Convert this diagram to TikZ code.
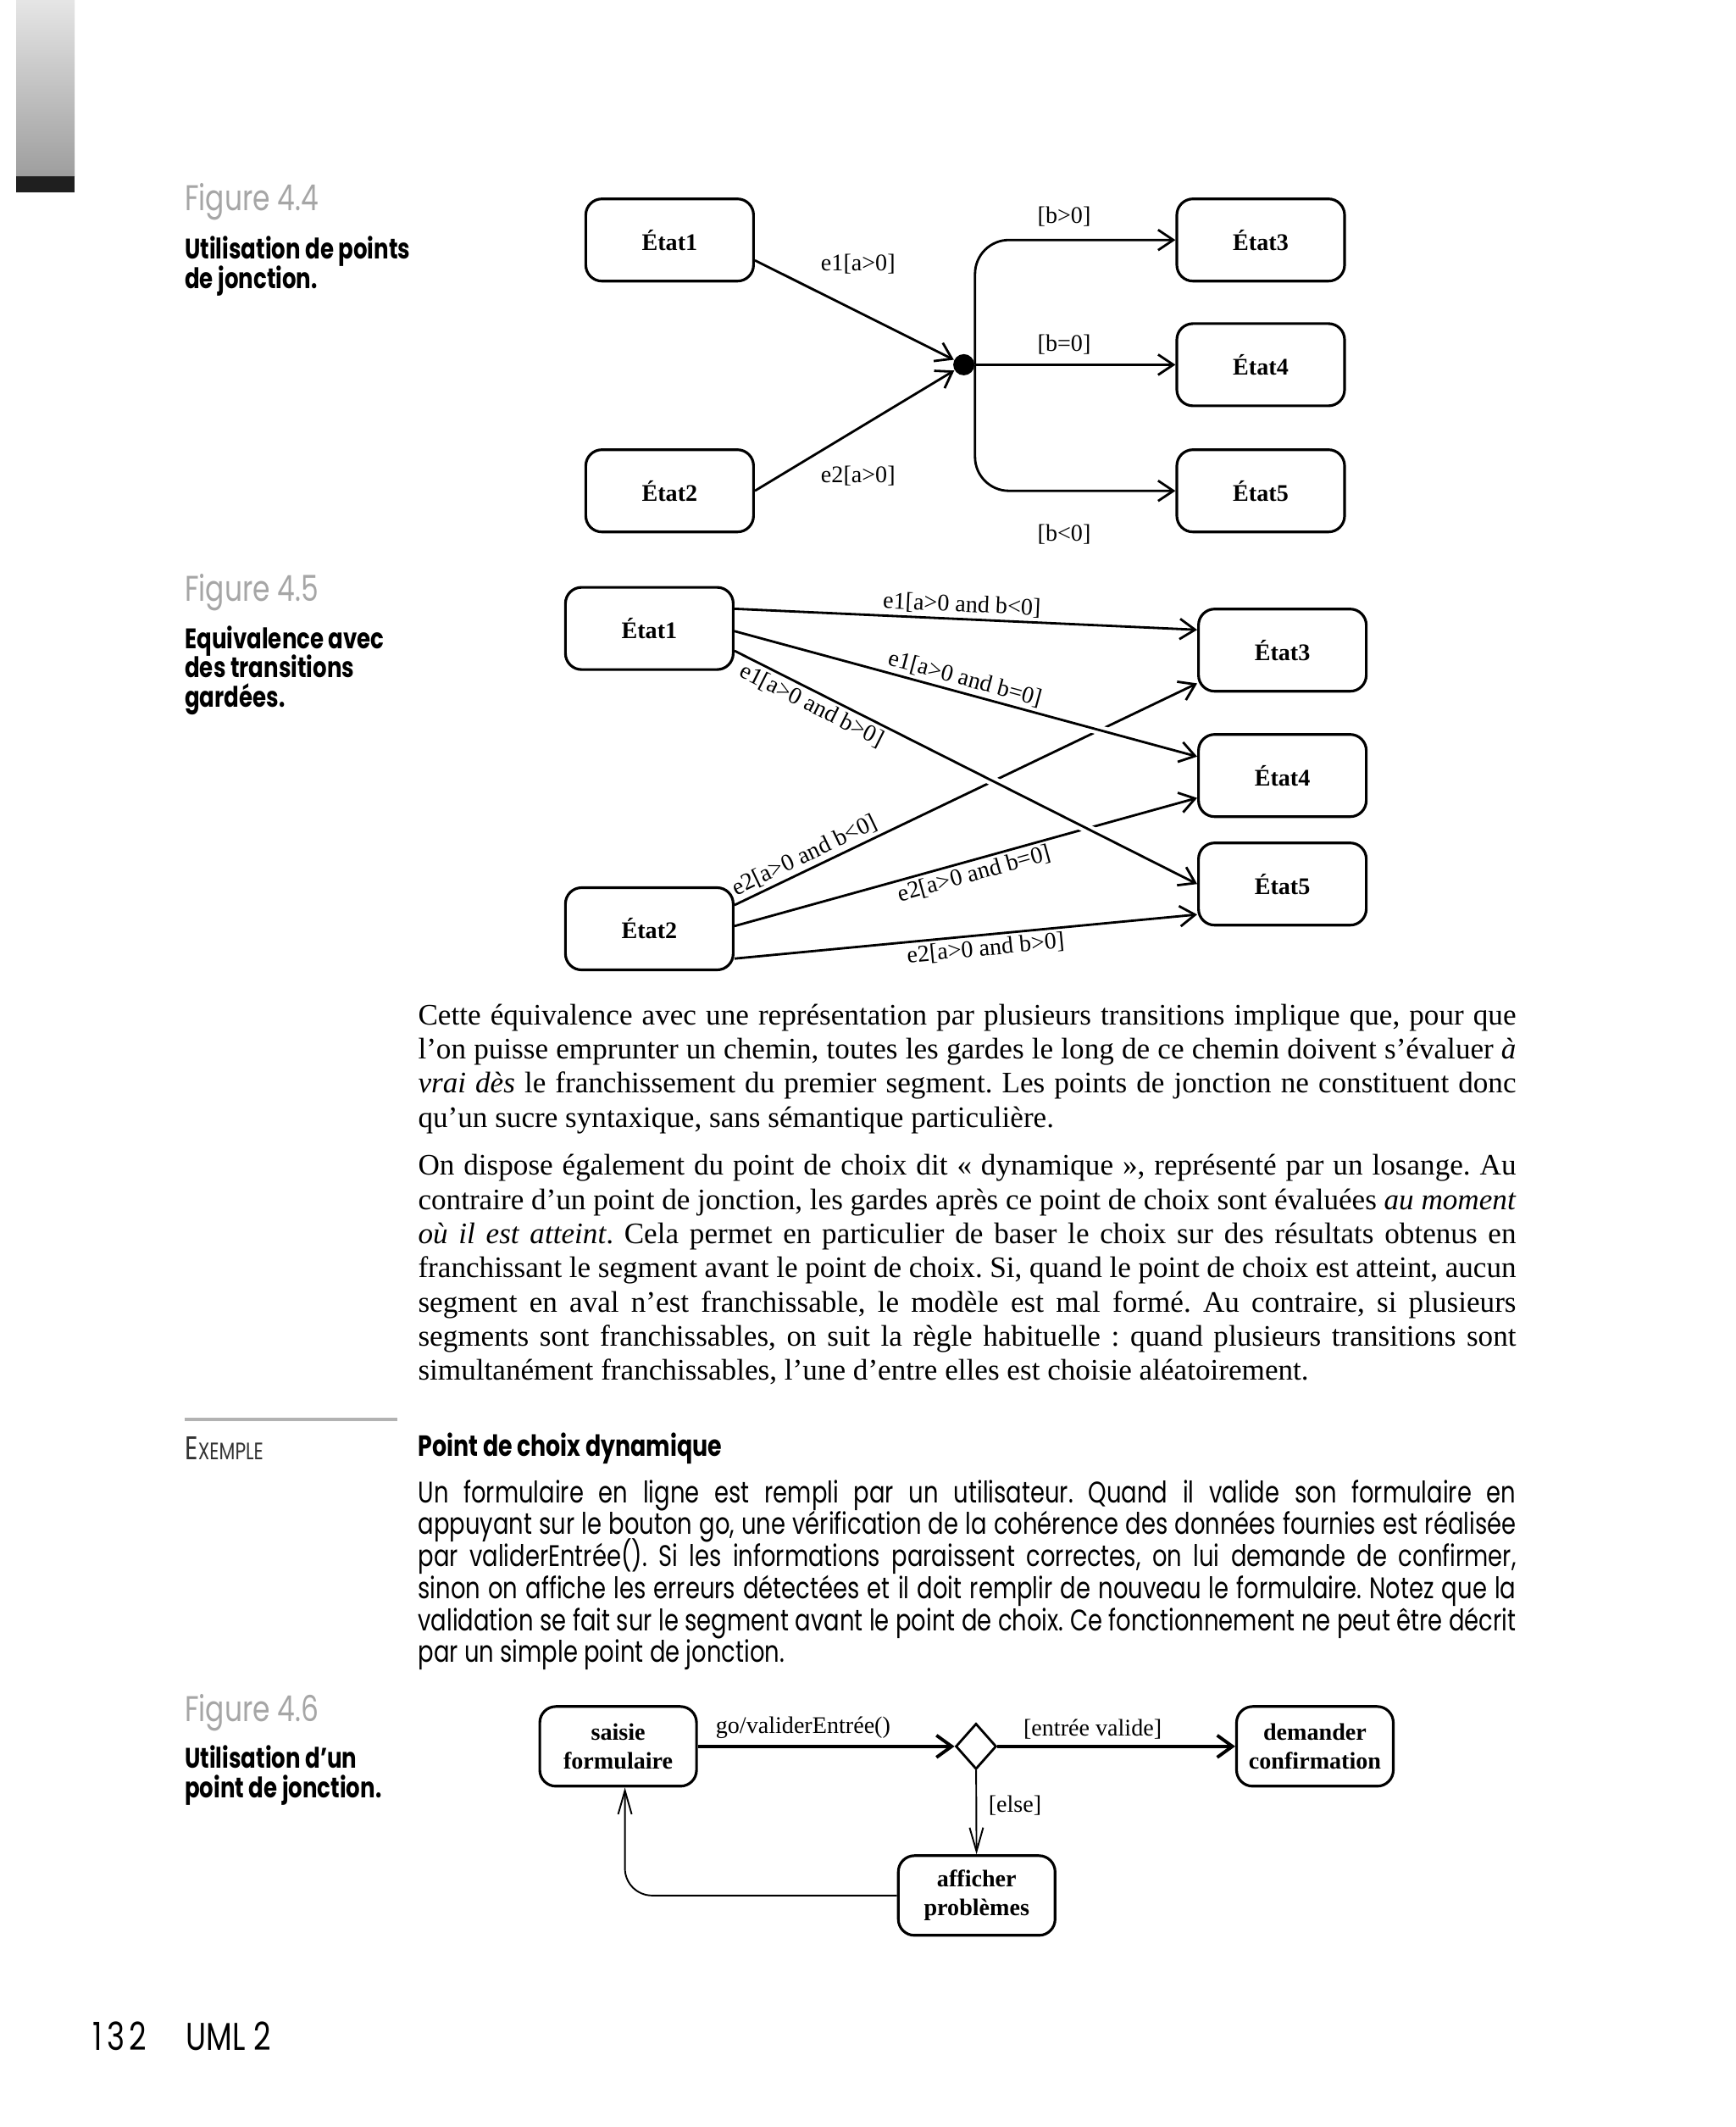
\documentclass[tikz,border=0pt]{standalone}
\usepackage{fontspec}
\setmainfont{Liberation Serif}
\newfontfamily\futur[FakeStretch=0.78]{Poppins}
\newfontfamily\garamo{Liberation Serif}
\usetikzlibrary{arrows.meta}
\usetikzlibrary{shapes.geometric}
\newcommand\serre{\lineskiplimit-10pt\relax}

\tikzset{
  etat/.style={draw, line width=0.9pt, rounded corners=1.9mm, minimum width=19.8mm,
    minimum height=9.7mm, align=center, font=\bfseries\fontsize{8}{9.6}\selectfont},
  garde/.style={font=\fontsize{8}{9.6}\selectfont, inner sep=1pt},
  trans/.style={line width=0.8pt, -{Straight Barb[length=1.8mm,width=2.4mm]}},
  epais/.style={line width=1.1pt, -{Straight Barb[length=1.8mm,width=2.6mm]}},
  fine/.style={line width=0.55pt, -{Straight Barb[length=2.8mm,width=1.6mm]}},
  dessus/.style={preaction={-, draw=white, line width=3.2pt, shorten <=4mm, shorten >=4mm}},
  figno/.style={anchor=west, inner sep=0, text=black!35, font=\futur\fontsize{12}{14}\selectfont},
  legende/.style={anchor=north west, inner sep=0, align=left,
    font=\futur\bfseries\fontsize{9.5}{9.9}\selectfont\serre},
  texte/.style={anchor=north west, inner sep=0, text width=129.6mm, align=justify,
    font=\garamo\frenchspacing\fontsize{10}{11.48}\selectfont},
  exemple/.style={anchor=north west, inner sep=0, text width=129.6mm, align=justify,
    font=\futur\frenchspacing\fontsize{10}{10.74}\selectfont\serre},
}

\begin{document}
\begin{tikzpicture}[x=0.16mm, y=-0.16mm]
  \useasboundingbox (0,0) rectangle (1280,1568.75);
  \fill[white] (0,0) rectangle (1280,1568.75);

  % bandeau de page
  \shade[top color=black!10, bottom color=black!38] (12,0) rectangle (55,130);
  \fill[black!88] (12,130) rectangle (55,142);

  % Figure 4.4
  \node[figno] (f44) at (136,149) {Figure 4.4};
  \node[legende] (c44) at (136,174) {Utilisation de points\\de jonction.};

  \node[etat] (a1) at (494,177) {État1};
  \node[etat] (a2) at (494,362) {État2};
  \node[etat] (a3) at (930,177) {État3};
  \node[etat] (a4) at (930,269) {État4};
  \node[etat] (a5) at (930,362) {État5};
  \node[circle, fill, inner sep=0, minimum size=2.5mm] (j) at (711,269) {};

  \draw[trans] ([yshift=-2.4mm]a1.east) -- (j);
  \draw[trans] (a2.east) -- (j);
  \draw[trans, rounded corners=4mm] (j.east) |- (a3);
  \draw[trans] (j) -- (a4);
  \draw[trans, rounded corners=4mm] (j.east) |- (a5);

  \node[garde] (g1) at (633,195) {e1[a>0]};
  \node[garde] (g2) at (633,351) {e2[a>0]};
  \node[garde] (g3) at (785,160) {[b>0]};
  \node[garde] (g4) at (785,254) {[b=0]};
  \node[garde] (g5) at (785,394) {[b<0]};

  % Figure 4.5
  \node[figno] (f45) at (136,437) {Figure 4.5};
  \node[legende] (c45) at (136,461) {Equivalence avec\\des transitions\\gardées.};

  \node[etat] (b1) at (479,463.5) {État1};
  \node[etat] (b2) at (479,685) {État2};
  \node[etat] (b3) at (946,479.5) {État3};
  \node[etat] (b4) at (946,572) {État4};
  \node[etat] (b5) at (946,652) {État5};

  \draw[trans] ([yshift=2.8mm]b2.east) -- ([yshift=-3.92mm]b3.west)
    node[garde, sloped, above, pos=0.165] {e2[a>0 and b<0]};
  \draw[trans] ([yshift=0.32mm]b2.east) -- ([yshift=-2.64mm]b4.west)
    node[garde, sloped, below, pos=0.51] {e2[a>0 and b=0]};
  \draw[trans] ([yshift=-3.52mm]b2.east) -- ([yshift=-3.6mm]b5.west)
    node[garde, sloped, below, pos=0.54] {e2[a>0 and b>0]};
  \draw[trans, dessus] ([yshift=2.32mm]b1.east) -- ([yshift=2.4mm]b3.west)
    node[garde, sloped, above, pos=0.49] {e1[a>0 and b<0]};
  \draw[trans, dessus] ([yshift=-0.32mm]b1.east) -- ([yshift=2.24mm]b4.west)
    node[garde, sloped, above, pos=0.49] {e1[a>0 and b=0]};
  \draw[trans, dessus] ([yshift=-2.64mm]b1.east) -- (b5.west)
    node[garde, sloped, below, pos=0.18] {e1[a>0 and b>0]};

  % texte courant
  \node[texte] (p1) at (308,740) {\noindent Cette équivalence avec une représentation par plusieurs
    transitions implique que, pour que\linebreak l’on puisse emprunter un chemin, toutes les gardes
    le long de ce chemin doivent s’évaluer \emph{à}\linebreak \emph{vrai dès} le franchissement du
    premier segment. Les points de jonction ne constituent donc\linebreak qu’un sucre syntaxique,
    sans sémantique particulière.};
  \node[texte] (p2) at (308,851) {\noindent On dispose également du point de choix dit
    «~dynamique~», représenté par un losange. Au\linebreak contraire d’un point de jonction, les
    gardes après ce point de choix sont évaluées \emph{au moment}\linebreak \emph{où il est
    atteint}. Cela permet en particulier de baser le choix sur des résultats obtenus
    en\linebreak franchissant le segment avant le point de choix. Si, quand le point de choix est
    atteint, aucun\linebreak segment en aval n’est franchissable, le modèle est mal formé. Au
    contraire, si plusieurs\linebreak segments sont franchissables, on suit la règle
    habituelle~: quand plusieurs transitions sont\linebreak simultanément franchissables, l’une
    d’entre elles est choisie aléatoirement.};

  % encadre exemple
  \draw[black!30, line width=1pt] (136,1047) -- (293,1047);
  \node[anchor=west, inner sep=0, text=black!80] (ex) at (136,1068)
    {\futur\fontsize{11}{13}\selectfont E\fontsize{8}{10}\selectfont XEMPLE};
  \node[anchor=west, inner sep=0] (titre) at (308,1068)
    {\futur\bfseries\fontsize{9.8}{12}\selectfont Point de choix dynamique};
  \node[exemple] (p3) at (308,1091) {\noindent Un formulaire en ligne est rempli par un
    utilisateur. Quand il valide son formulaire en\linebreak appuyant sur le bouton go, une
    vérification de la cohérence des données fournies est réalisée\linebreak par validerEntrée().
    Si les informations paraissent correctes, on lui demande de confirmer,\linebreak sinon on
    affiche les erreurs détectées et il doit remplir de nouveau le formulaire. Notez que
    la\linebreak validation se fait sur le segment avant le point de choix. Ce fonctionnement ne
    peut être décrit\linebreak par un simple point de jonction.};

  % Figure 4.6
  \node[figno] (f46) at (136,1263) {Figure 4.6};
  \node[legende] (c46) at (136,1287) {Utilisation d’un\\point de jonction.};

  \node[etat, minimum width=18.5mm, minimum height=9.4mm] (saisie) at (456,1288) {saisie\\formulaire};
  \node[draw, diamond, line width=0.8pt, inner sep=0, minimum width=4.8mm,
    minimum height=5.4mm] (choix) at (720,1288) {};
  \node[etat, minimum width=18.5mm, minimum height=9.4mm] (demander) at (970,1288) {demander\\confirmation};
  \node[etat, minimum width=18.5mm, minimum height=9.4mm] (afficher) at (720.5,1398) {afficher\\problèmes};

  \draw[epais] (saisie) -- (choix) node[garde, above=1pt, pos=0.41] {go/validerEntrée()};
  \draw[epais] (choix) -- (demander) node[garde, above=1pt, pos=0.4] {[entrée valide]};
  \draw[fine] (choix) -- (afficher) node[garde, right=1mm, pos=0.42] {[else]};
  \draw[fine, rounded corners=3.2mm] (afficher.west) -| ([xshift=0.8mm]saisie.south);

  % pied de page
  \node[anchor=west, inner sep=0] (num) at (68,1502)
    {\futur\fontsize{13}{15}\selectfont\addfontfeature{LetterSpace=12}132};
  \node[anchor=west, inner sep=0] (livre) at (137,1502) {\futur\fontsize{13}{15}\selectfont UML 2};
\end{tikzpicture}
\end{document}
